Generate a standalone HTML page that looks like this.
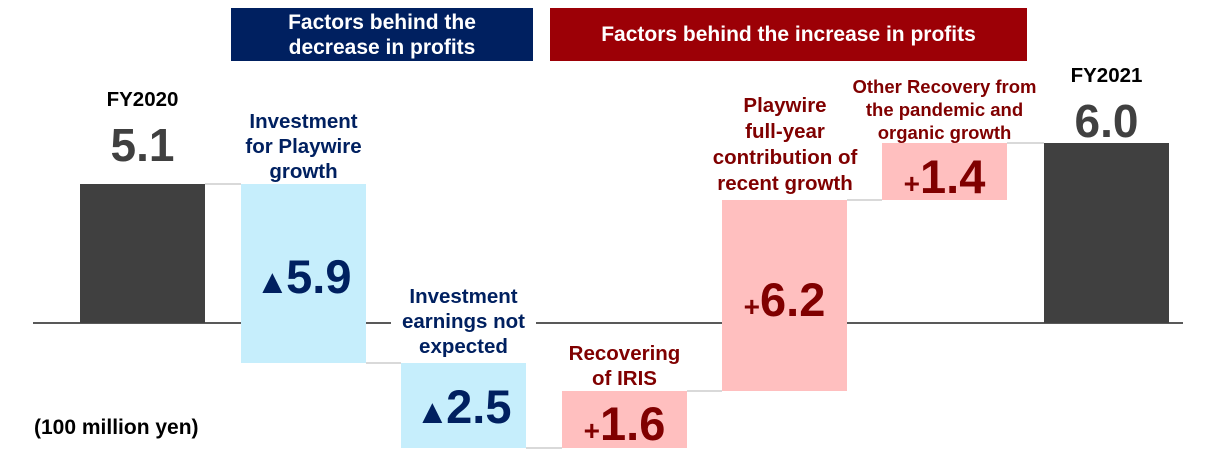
<!DOCTYPE html>
<html><head><meta charset="utf-8"><style>
body{margin:0;width:1232px;height:458px;background:#fff;position:relative;overflow:hidden;font-family:"Liberation Sans",Arial,sans-serif;font-weight:bold}
div{position:absolute}
.l{text-align:center;font-size:20.5px;line-height:25px;background:#fff}
.n{color:#002060}.r{color:#800000}
.big{text-align:center;font-size:47px;line-height:46px}
.t{font-size:34px;line-height:0;letter-spacing:-3px}
.p{font-size:28px}
.h{color:#fff;text-align:center;font-size:21px;line-height:25px;display:flex;align-items:center;justify-content:center}
.c{height:2px;background:#d9d9d9}
</style></head><body>
<div class="h" style="left:231px;top:8px;width:302px;height:53px;background:#002060">Factors behind the<br>decrease in profits</div>
<div class="h" style="left:550px;top:8px;width:477px;height:53px;background:#9c0006">Factors behind the increase in profits</div>

<div style="left:33px;top:322px;width:1150px;height:2px;background:#595959"></div>

<div class="c" style="left:205px;top:183px;width:36px"></div>
<div class="c" style="left:366px;top:362px;width:35px"></div>
<div class="c" style="left:526px;top:447px;width:36px"></div>
<div class="c" style="left:687px;top:390px;width:35px"></div>
<div class="c" style="left:847px;top:199px;width:35px"></div>
<div class="c" style="left:1007px;top:142px;width:37px"></div>

<div style="left:80px;top:184px;width:125px;height:139px;background:#404040"></div>
<div style="left:241px;top:184px;width:125px;height:179px;background:#c6eefc"></div>
<div style="left:401px;top:363px;width:125px;height:85px;background:#c6eefc"></div>
<div style="left:562px;top:391px;width:125px;height:57px;background:#ffbfbf"></div>
<div style="left:722px;top:200px;width:125px;height:191px;background:#ffbfbf"></div>
<div style="left:882px;top:143px;width:125px;height:57px;background:#ffbfbf"></div>
<div style="left:1044px;top:143px;width:125px;height:180px;background:#404040"></div>

<div class="l" style="left:70px;top:87px;width:145px;color:#000;background:none">FY2020</div>
<div class="big" style="left:80px;top:122px;width:125px;color:#404040;font-size:46px">5.1</div>
<div class="l" style="left:1034px;top:63px;width:145px;color:#000;background:none">FY2021</div>
<div class="big" style="left:1044px;top:98px;width:125px;color:#404040;font-size:46px">6.0</div>

<div class="l n" style="left:211px;top:109px;width:185px;background:none">Investment<br>for Playwire<br>growth</div>
<div class="big n" style="left:236px;top:254px;width:135px"><span class="t">▲</span>5.9</div>
<div class="l n" style="left:391px;top:284px;width:145px">Investment<br>earnings not<br>expected</div>
<div class="big n" style="left:396px;top:384px;width:135px"><span class="t">▲</span>2.5</div>

<div class="l r" style="left:532px;top:341px;width:185px;background:none">Recovering<br>of IRIS</div>
<div class="big r" style="left:557px;top:401px;width:135px"><span class="p">+</span>1.6</div>
<div class="l r" style="left:685px;top:93px;width:200px;background:none;line-height:26px">Playwire<br>full-year<br>contribution of<br>recent growth</div>
<div class="big r" style="left:717px;top:277px;width:135px"><span class="p">+</span>6.2</div>
<div class="l r" style="left:832px;top:75px;width:225px;font-size:18.5px;line-height:23px;background:none">Other Recovery from<br>the pandemic and<br>organic growth</div>
<div class="big r" style="left:877px;top:154px;width:135px"><span class="p">+</span>1.4</div>

<div style="left:34px;top:416px;font-size:21px;color:#000">(100 million yen)</div>
</body></html>
